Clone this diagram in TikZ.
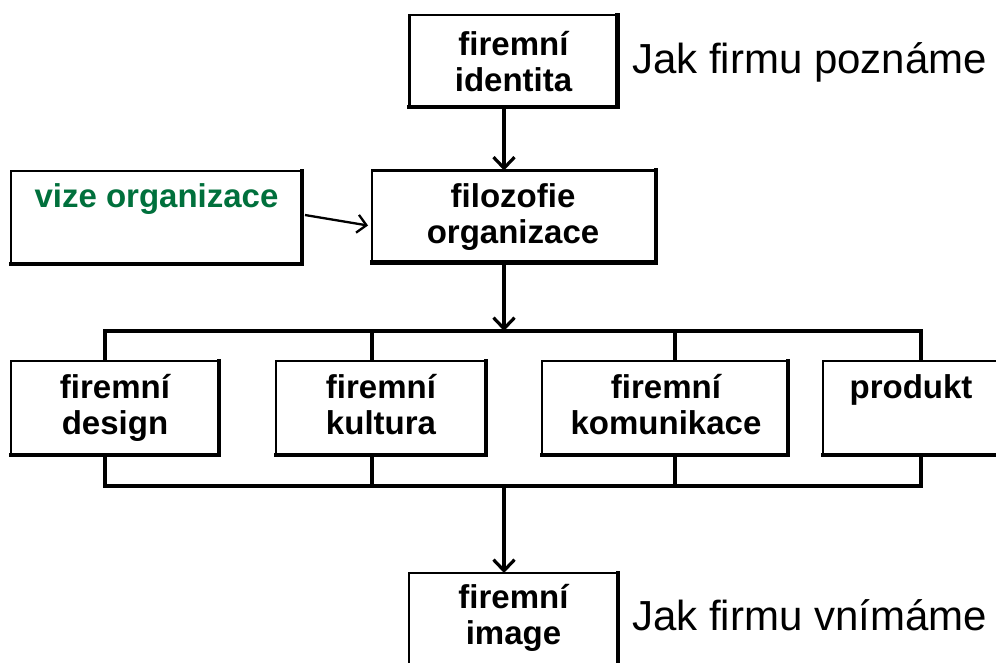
\documentclass[tikz,border=0pt]{standalone}
\usepackage{fontspec}
\setmainfont{Liberation Sans}
\usetikzlibrary{arrows.meta}
\definecolor{vizegreen}{RGB}{0,112,60}
\newcommand\twoline[2]{\begin{tabular}[t]{@{}c@{}}#1\\#2\end{tabular}}
\begin{document}
\begin{tikzpicture}[x=1pt,y=-1pt,
  box/.style={draw, line width=2.5pt, inner sep=0pt, outer sep=0pt},
  shadowedge/.style={line width=4.2pt, line cap=rect},
  txt/.style={anchor=base, inner sep=0pt, font=\bfseries\fontsize{33}{36}\selectfont},
  title/.style={anchor=base west, inner sep=0pt, font=\fontsize{42}{48}\selectfont},
  conn/.style={line width=3.2pt},
  arr/.style={conn, -{Straight Barb[length=11pt,width=21pt]}},
  thinarr/.style={line width=2.3pt, -{Straight Barb[length=9pt,width=18pt]}}]
\useasboundingbox (0,0) rectangle (996,662);
\clip (0,0) rectangle (996,662);
\fill[white] (0,0) rectangle (996,662);

% boxes
\node[box, minimum width=208pt, minimum height=92pt] (ident) at (513.5,61) {};
\node[box, minimum width=291pt, minimum height=93pt] (vize) at (156.5,217.5) {};
\node[box, minimum width=284pt, minimum height=92pt] (filo) at (514,216.5) {};
\node[box, minimum width=208pt, minimum height=94pt] (design) at (115,408) {};
\node[box, minimum width=210pt, minimum height=94pt] (kultura) at (381,408) {};
\node[box, minimum width=246pt, minimum height=94pt] (komunik) at (665,408) {};
\node[box, minimum width=176pt, minimum height=94pt] (produkt) at (911,408) {};
\node[box, minimum width=209pt, minimum height=93pt] (image) at (513.5,619.5) {};
\foreach \n in {ident,vize,filo,design,kultura,komunik,produkt,image}
  \draw[shadowedge] (\n.north east) -- (\n.south east) -- (\n.south west);

% texts
\node[txt] (identT) at (513.5,55) {\twoline{firemní}{identita}};
\node[txt, text=vizegreen] (vizeT) at (156.5,207) {vize organizace};
\node[txt] (filoT) at (513,207.5) {\twoline{filozofie}{organizace}};
\node[txt] (designT) at (115,398) {\twoline{firemní}{design}};
\node[txt] (kulturaT) at (381,398) {\twoline{firemní}{kultura}};
\node[txt] (komunikT) at (666,398) {\twoline{firemní}{komunikace}};
\node[txt] (produktT) at (911,398) {produkt};
\node[txt] (imageT) at (513.5,608) {\twoline{firemní}{image}};
\node[title] (poznT) at (632,73) {Jak firmu poznáme};
\node[title] (vnimT) at (632,630) {Jak firmu vnímáme};

% bus coordinates
\coordinate (spine) at (504,0);
\coordinate (t1) at (105,331);
\coordinate (t2) at (372,331);
\coordinate (t3) at (675,331);
\coordinate (t4) at (921,331);
\coordinate (b1) at (105,486);
\coordinate (b2) at (372,486);
\coordinate (b3) at (675,486);
\coordinate (b4) at (921,486);
\coordinate (tm) at (504,331);
\coordinate (bm) at (504,486);

% connectors
\draw[arr] (ident.south -| spine) -- (filo.north -| spine);
\draw[thinarr] ([xshift=3pt,yshift=2.5pt]vize.east) -- ([xshift=-4pt,yshift=-9pt]filo.west);
\draw[arr] (filo.south -| spine) -- (tm);
\draw[conn, line cap=rect] (t1) -- (t4);
\draw[conn] (t1) -- (t1 |- design.north);
\draw[conn] (t2) -- (t2 |- kultura.north);
\draw[conn] (t3) -- (t3 |- komunik.north);
\draw[conn] (t4) -- (t4 |- produkt.north);
\draw[conn, line cap=rect] (b1) -- (b4);
\draw[conn] (b1) -- (b1 |- design.south);
\draw[conn] (b2) -- (b2 |- kultura.south);
\draw[conn] (b3) -- (b3 |- komunik.south);
\draw[conn] (b4) -- (b4 |- produkt.south);
\draw[arr] (bm) -- (image.north -| spine);
\end{tikzpicture}
\end{document}
